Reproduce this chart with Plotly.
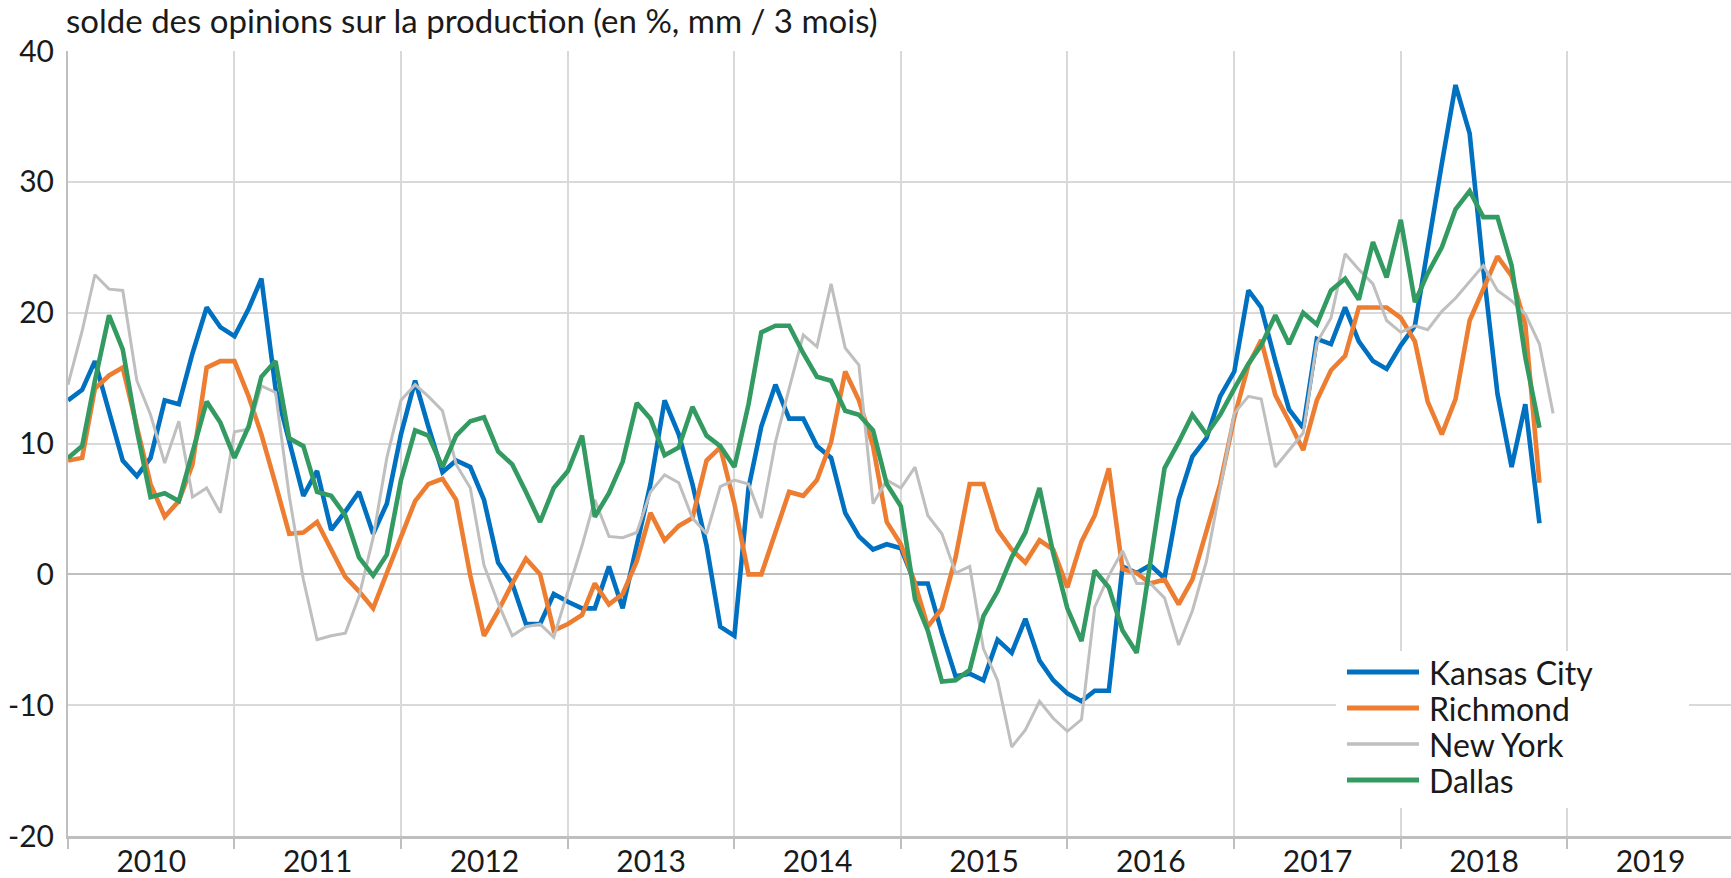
import pandas as pd
import plotly.graph_objects as go

# Monthly dates: Jan 2010 .. Dec 2018
months = pd.date_range("2010-01-01", "2018-12-01", freq="MS").strftime("%Y-%m-%d").tolist()

kansas_city = [13.3, 14.1, 16.3, 12.4, 8.7, 7.5, 8.9, 13.3, 13.0, 16.9, 20.4, 18.9,
               18.2, 20.3, 22.6, 14.2, 10.1, 6.0, 7.9, 3.4, 4.8, 6.3, 3.1, 5.4,
               10.7, 14.8, 11.3, 7.8, 8.7, 8.2, 5.7, 0.9, -0.7, -3.8, -3.8, -1.5,
               -2.1, -2.6, -2.6, 0.6, -2.6, 2.4, 6.9, 13.3, 10.7, 6.9, 2.2, -4.0,
               -4.7, 6.6, 11.3, 14.5, 11.9, 11.9, 9.8, 8.9, 4.7, 2.9, 1.9, 2.3,
               2.0, -0.7, -0.7, -4.5, -7.8, -7.6, -8.1, -5.0, -6.0, -3.4, -6.6, -8.1,
               -9.1, -9.7, -8.9, -8.9, 0.6, 0.1, 0.7, -0.3, 5.7, 9.0, 10.4, 13.6,
               15.5, 21.7, 20.4, 16.3, 12.6, 11.2, 18.0, 17.6, 20.4, 17.8, 16.3, 15.7,
               17.5, 19.0, 25.1, 31.4, 37.4, 33.7, 23.3, 13.8, 8.2, 13.0, 3.9]

richmond = [8.7, 8.9, 14.2, 15.2, 15.8, 11.3, 6.9, 4.4, 5.6, 8.4, 15.8, 16.3,
            16.3, 13.6, 10.7, 6.9, 3.1, 3.2, 4.0, 1.9, -0.2, -1.3, -2.6, 0.1,
            2.8, 5.6, 6.9, 7.3, 5.7, -0.1, -4.7, -2.8, -0.7, 1.2, 0.0, -4.3,
            -3.8, -3.1, -0.7, -2.3, -1.5, 1.0, 4.7, 2.6, 3.7, 4.3, 8.7, 9.7,
            5.4, 0.0, 0.0, 3.1, 6.3, 6.0, 7.2, 10.1, 15.5, 13.3, 9.8, 4.0,
            2.3, -0.7, -4.0, -2.6, 1.3, 6.9, 6.9, 3.4, 1.9, 0.9, 2.6, 1.9,
            -1.0, 2.5, 4.5, 8.1, 0.4, 0.1, -0.7, -0.4, -2.3, -0.4, 3.4, 6.9,
            12.0, 16.0, 17.9, 13.7, 11.7, 9.5, 13.3, 15.6, 16.7, 20.4, 20.4, 20.4,
            19.6, 17.8, 13.2, 10.7, 13.4, 19.4, 21.8, 24.3, 22.8, 19.1, 7.0]

new_york = [14.5, 18.6, 22.9, 21.8, 21.7, 14.8, 12.2, 8.5, 11.7, 5.9, 6.6, 4.7,
            10.9, 11.1, 14.4, 13.9, 6.0, -0.4, -5.0, -4.7, -4.5, -1.7, 2.8, 8.9,
            13.3, 14.5, 13.6, 12.5, 8.4, 6.6, 0.7, -2.2, -4.7, -4.0, -3.8, -4.8,
            -1.3, 2.2, 5.7, 2.9, 2.8, 3.2, 6.3, 7.6, 7.0, 4.3, 3.1, 6.7,
            7.2, 6.9, 4.3, 10.1, 14.2, 18.3, 17.4, 22.2, 17.3, 16.0, 5.4, 7.2,
            6.6, 8.2, 4.5, 3.1, 0.1, 0.6, -5.7, -8.1, -13.2, -11.9, -9.7, -11.0,
            -12.0, -11.1, -2.5, -0.1, 1.8, -0.7, -0.7, -1.8, -5.4, -2.8, 1.0, 6.6,
            12.3, 13.6, 13.4, 8.2, 9.5, 10.8, 17.7, 19.6, 24.5, 23.3, 22.2, 19.4,
            18.5, 19.0, 18.7, 20.1, 21.1, 22.4, 23.6, 21.7, 20.9, 19.9, 17.6, 12.3]

dallas = [8.9, 9.8, 14.8, 19.8, 17.2, 11.0, 5.9, 6.2, 5.6, 9.2, 13.2, 11.6,
          8.9, 11.3, 15.1, 16.3, 10.4, 9.8, 6.3, 6.0, 4.5, 1.3, -0.1, 1.5,
          7.2, 11.0, 10.6, 8.2, 10.6, 11.7, 12.0, 9.4, 8.4, 6.3, 4.0, 6.6,
          7.9, 10.6, 4.4, 6.2, 8.6, 13.1, 11.9, 9.1, 9.7, 12.8, 10.6, 9.8,
          8.2, 13.0, 18.5, 19.0, 19.0, 16.9, 15.1, 14.8, 12.5, 12.2, 11.0, 6.9,
          5.2, -1.9, -4.3, -8.2, -8.1, -7.3, -3.2, -1.3, 1.3, 3.2, 6.6, 1.6,
          -2.6, -5.1, 0.3, -1.0, -4.3, -6.0, 1.0, 8.1, 10.1, 12.2, 10.7, 12.2,
          14.2, 16.1, 17.5, 19.8, 17.6, 20.0, 19.1, 21.7, 22.6, 21.0, 25.4, 22.7,
          27.1, 20.8, 23.0, 25.0, 27.9, 29.3, 27.3, 27.3, 23.6, 16.6, 11.2]

series_names = ["Kansas City", "Richmond", "New York", "Dallas"]
series_values = [kansas_city, richmond, new_york, dallas]
series_colors = ["#0070C0", "#ED7D31", "#BFBFBF", "#339B61"]
series_widths = [4.6, 4.6, 3, 4.6]

title_text = "solde des opinions sur la production (en %, mm / 3 mois)"
y_ticks = [-20, -10, 0, 10, 20, 30, 40]
y_tick_labels = [str(v) for v in y_ticks]

FONT = "Lato"
W, H = 1731, 878
ML, MR, MT, MB = 68, 0, 51, 42
PW, PH = W - ML - MR, H - MT - MB

fig = go.Figure()
for name, vals, col, lw in zip(series_names, series_values, series_colors, series_widths):
    fig.add_trace(go.Scatter(
        x=months[:len(vals)], y=vals, mode="lines", name=name,
        line=dict(color=col, width=lw), showlegend=False,
    ))

def px_x(p):
    return (p - ML) / PW

def px_y(p):
    return (H - MB - p) / PH

shapes = []
annotations = []
# legend box (white, covers gridlines)
shapes.append(dict(type="rect", xref="paper", yref="paper",
                   x0=px_x(1336), x1=px_x(1689), y0=px_y(808), y1=px_y(651),
                   fillcolor="white", line=dict(width=0), layer="above"))
leg_y = [672, 708, 744, 780]
for name, col, lw, ly in zip(series_names, series_colors, series_widths, leg_y):
    shapes.append(dict(type="line", xref="paper", yref="paper",
                       x0=px_x(1347), x1=px_x(1419), y0=px_y(ly), y1=px_y(ly),
                       line=dict(color=col, width=lw + 0.5), layer="above"))
    annotations.append(dict(text=name, xref="paper", yref="paper",
                            x=px_x(1427), y=px_y(ly), xanchor="left", yanchor="middle",
                            showarrow=False, font=dict(family=FONT, size=32, color="#1a1a1a")))

annotations.append(dict(text=title_text, xref="paper", yref="paper", x=0, y=1,
                        xanchor="left", yanchor="bottom", xshift=-4, yshift=9,
                        showarrow=False, font=dict(family=FONT, size=33, color="#1a1a1a")))

fig.update_layout(
    width=W, height=H,
    margin=dict(l=ML, r=MR, t=MT, b=MB, pad=0, autoexpand=False),
    paper_bgcolor="white", plot_bgcolor="white",
    font=dict(family=FONT, size=30, color="#1a1a1a"),
    shapes=shapes, annotations=annotations,
    showlegend=False,
)
fig.update_xaxes(
    type="date", range=["2010-01-01", "2019-12-26"], automargin=False,
    tick0="2010-01-01", dtick="M12", tickformat="%Y", ticklabelmode="period",
    showgrid=True, gridcolor="#D9D9D9", gridwidth=1.5,
    ticks="outside", ticklen=10, tickcolor="#BFBFBF", tickwidth=1.5,
    ticklabelstandoff=-13,
    showline=True, linecolor="#BFBFBF", linewidth=2.5,
    tickfont=dict(family=FONT, size=30, color="#1a1a1a"),
)
fig.update_yaxes(
    range=[-20, 40], tickvals=y_ticks, ticktext=y_tick_labels, automargin=False,
    showgrid=True, gridcolor="#D9D9D9", gridwidth=1.5,
    zeroline=True, zerolinecolor="#BFBFBF", zerolinewidth=2,
    showline=True, linecolor="#BFBFBF", linewidth=2,
    ticks="", ticklabelstandoff=6,
    tickfont=dict(family=FONT, size=30, color="#1a1a1a"),
)

fig.write_html(
    "out.html",
    config={"displayModeBar": False},
    post_script="document.body.style.margin='0';document.body.style.overflow='hidden';",
)
